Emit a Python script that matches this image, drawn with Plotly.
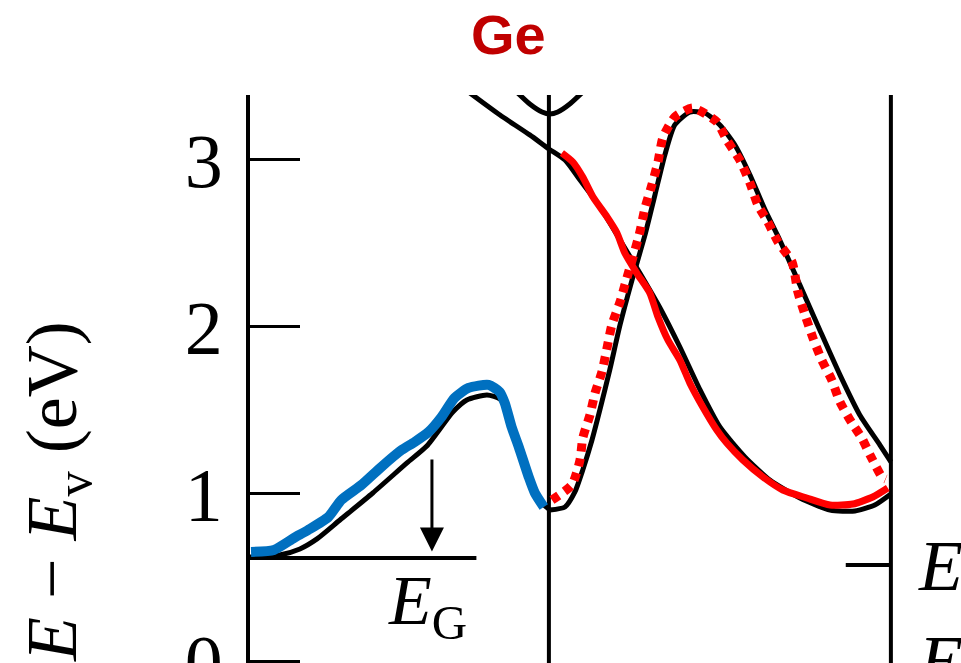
import plotly.graph_objects as go

# ---- data (k: L=-0.874, Γ=0, X=1 ; E in eV) ----
blue_k = [-0.871, -0.804, -0.745, -0.704, -0.645, -0.607, -0.548, -0.490, -0.431, -0.393, -0.352,
          -0.314, -0.276, -0.235, -0.176, -0.144, -0.129, -0.109, -0.088, -0.059, -0.041, -0.015]
blue_E = [0.653, 0.665, 0.737, 0.784, 0.862, 0.964, 1.054, 1.162, 1.263, 1.311, 1.371,
          1.461, 1.575, 1.635, 1.653, 1.611, 1.545, 1.401, 1.281, 1.102, 1.006, 0.922]

dot_k = [0.009, 0.067, 0.091, 0.099, 0.120, 0.135, 0.155, 0.170, 0.184, 0.208, 0.228, 0.246, 0.266,
         0.281, 0.301, 0.319, 0.333, 0.368, 0.421, 0.491, 0.520, 0.558, 0.588, 0.611, 0.640, 0.670,
         0.711, 0.728, 0.749, 0.772, 0.798, 0.827, 0.851, 0.886, 0.915, 0.939, 0.974, 0.985]
dot_E = [0.964, 1.054, 1.204, 1.335, 1.473, 1.605, 1.731, 1.874, 2.012, 2.150, 2.293, 2.419, 2.569,
         2.713, 2.850, 2.988, 3.132, 3.257, 3.311, 3.228, 3.120, 3.000, 2.862, 2.731, 2.629, 2.509,
         2.389, 2.210, 2.072, 1.934, 1.802, 1.683, 1.551, 1.425, 1.335, 1.234, 1.102, 1.090]

red_k = [0.038, 0.070, 0.099, 0.129, 0.170, 0.199, 0.222, 0.257, 0.295, 0.319, 0.348, 0.383, 0.412,
         0.450, 0.491, 0.520, 0.567, 0.626, 0.684, 0.754, 0.822, 0.889, 0.947, 0.991]
red_E = [3.042, 2.988, 2.898, 2.778, 2.659, 2.563, 2.443, 2.323, 2.204, 2.060, 1.922, 1.802, 1.665,
         1.521, 1.383, 1.305, 1.204, 1.102, 1.024, 0.976, 0.934, 0.940, 0.982, 1.036]

blk1_k = [-0.874, -0.787, -0.728, -0.678, -0.611, -0.515, -0.415, -0.357, -0.281, -0.240, -0.181,
          -0.143, -0.123, -0.105, -0.079, -0.050, -0.020, 0.003]
blk1_E = [0.623, 0.635, 0.671, 0.731, 0.844, 1.006, 1.186, 1.287, 1.491, 1.563, 1.593,
          1.569, 1.503, 1.365, 1.204, 1.054, 0.946, 0.904]

blk2_k = [0.003, 0.047, 0.076, 0.099, 0.126, 0.149, 0.178, 0.208, 0.243, 0.281, 0.310, 0.339, 0.368,
          0.412, 0.456, 0.500, 0.544, 0.588, 0.632, 0.675, 0.734, 0.792, 0.851, 0.909, 0.968, 1.000]
blk2_E = [0.904, 0.922, 1.012, 1.144, 1.323, 1.503, 1.743, 2.012, 2.281, 2.551, 2.790, 3.030, 3.210,
          3.287, 3.281, 3.210, 3.090, 2.910, 2.701, 2.521, 2.251, 1.982, 1.713, 1.473, 1.293, 1.192]

blk3_k = [-0.231, -0.143, -0.056, 0.000, 0.047, 0.091, 0.149, 0.208, 0.266, 0.325, 0.383, 0.442,
          0.500, 0.573, 0.646, 0.734, 0.822, 0.895, 0.953, 1.000]
blk3_E = [3.401, 3.269, 3.150, 3.066, 3.000, 2.880, 2.719, 2.521, 2.323, 2.114, 1.880, 1.623,
          1.401, 1.222, 1.084, 0.976, 0.904, 0.898, 0.934, 1.000]

blk4_k = [-0.091, -0.056, -0.020, 0.003, 0.026, 0.061, 0.096]
blk4_E = [3.401, 3.335, 3.287, 3.275, 3.287, 3.335, 3.401]

sym_k = [0.0, 1.0]              # Γ and X vertical lines
eg_k = [-0.874, -0.212]         # E_G reference line
eg_E = [0.617, 0.617]
ex_k = [0.868, 1.0]             # short tick at X
ex_E = [0.575, 0.575]
arrow_k = -0.342
arrow_E = [1.216, 0.655]

y_ticks = [0, 1, 2, 3]
y_range = [-0.012, 3.389]
x_range = [-0.874, 1.205]

fig = go.Figure()

def line(x, y, color, width, dash="solid"):
    fig.add_trace(go.Scatter(x=x, y=y, mode="lines", showlegend=False, hoverinfo="skip",
                             line=dict(color=color, width=width, dash=dash, shape="spline", smoothing=0.6)))

for k in sym_k:
    fig.add_trace(go.Scatter(x=[k, k], y=[-1, 5], mode="lines", showlegend=False,
                             line=dict(color="black", width=4)))
line(eg_k, eg_E, "black", 4)
line(ex_k, ex_E, "black", 4)
line(blk1_k, blk1_E, "black", 5)
line(blk2_k, blk2_E, "black", 5)
line(blk3_k, blk3_E, "black", 5)
line(blk4_k, blk4_E, "black", 5)
line(blue_k, blue_E, "#0070C0", 10)
line(red_k, red_E, "#FF0000", 7)
line(dot_k, dot_E, "#FF0000", 9, dash="8px,7px")

serif = "Liberation Serif, Times New Roman, serif"
fig.add_annotation(x=arrow_k, y=arrow_E[1], ax=arrow_k, ay=arrow_E[0], xref="x", yref="y",
                   axref="x", ayref="y", showarrow=True, arrowhead=2, arrowsize=1.6,
                   arrowwidth=3, arrowcolor="black", text="")
fig.add_annotation(x=-0.355, y=0.33, xref="x", yref="y", showarrow=False,
                   xanchor="center", yanchor="middle",
                   text="<i>E</i><sub>G</sub>", font=dict(family=serif, size=70, color="black"))
fig.add_annotation(x=1.072, y=0.57, xref="x", yref="y", showarrow=False, xanchor="left",
                   yanchor="middle", text="<i>E</i>", font=dict(family=serif, size=72, color="black"))
fig.add_annotation(x=1.072, y=0.0, xref="x", yref="y", showarrow=False, xanchor="left",
                   yanchor="middle", text="<i>E</i>", font=dict(family=serif, size=72, color="black"))
fig.add_annotation(x=(57 - 250) / 711, y=(663 - 492) / 568, xref="paper", yref="paper",
                   showarrow=False, textangle=-90, xanchor="center", yanchor="middle",
                   text="<i>E</i> − <i>E</i><sub>v</sub> (eV)",
                   font=dict(family=serif, size=72, color="black"))
fig.add_annotation(x=(508 - 250) / 711, y=(663 - 35) / 568, xref="paper", yref="paper",
                   showarrow=False, xanchor="center", yanchor="middle", text="<b>Ge</b>",
                   font=dict(family="Liberation Sans, Arial, sans-serif", size=56, color="#C00000"))

fig.update_layout(
    width=961, height=663,
    margin=dict(l=250, r=0, t=95, b=0, pad=0, autoexpand=False),
    paper_bgcolor="white", plot_bgcolor="white",
    xaxis=dict(range=x_range, visible=False, automargin=False),
    yaxis=dict(range=y_range, tickvals=y_ticks, ticks="inside", ticklen=50, tickwidth=3,
               tickcolor="black", showline=True, linewidth=4, linecolor="black",
               showgrid=False, zeroline=False, ticklabelstandoff=8, ticklabeloverflow="allow",
               automargin=False,
               tickfont=dict(family=serif, size=76, color="black")),
)

fig.write_html("out.html")
